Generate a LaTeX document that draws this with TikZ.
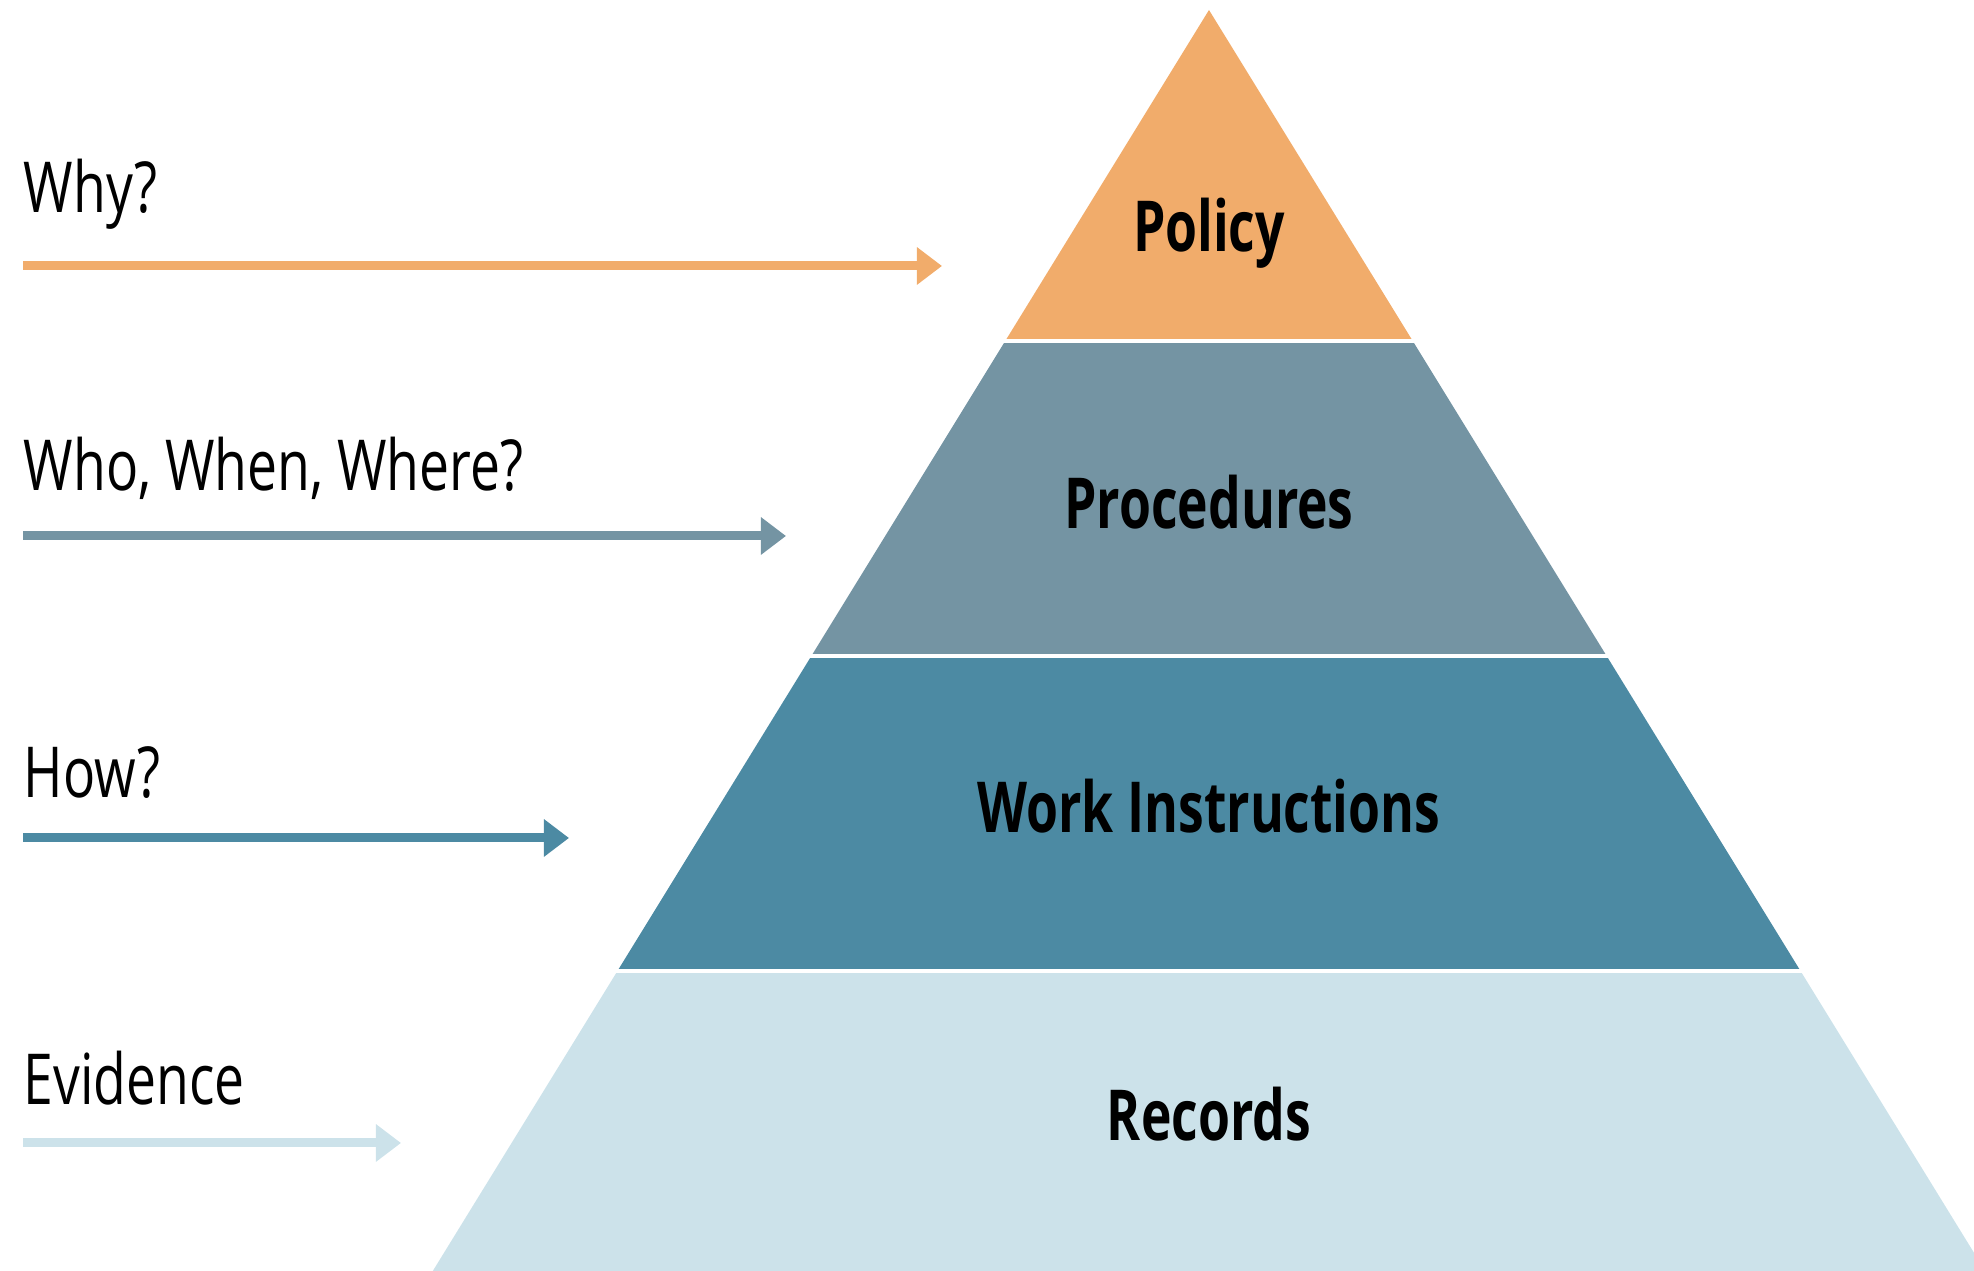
\documentclass[tikz,border=0pt]{standalone}
\usepackage{fontspec}
\setmainfont{Open Sans}[FakeStretch=0.76,BoldFeatures={FakeStretch=0.735}]
\usepackage{tikz}
\usetikzlibrary{arrows.meta}
\usetikzlibrary{positioning}
\definecolor{policyc}{HTML}{F1AC6B}
\definecolor{procc}{HTML}{7494A3}
\definecolor{workc}{HTML}{4C8AA3}
\definecolor{recc}{HTML}{CCE2EA}

\begin{document}
\begin{tikzpicture}[x=0.01cm,y=-0.01cm]
\tikzstyle{question}=[anchor=base west,inner sep=0pt,font=\fontsize{20}{24}\selectfont]
\tikzstyle{layer}=[anchor=base,inner sep=0pt,font=\fontsize{20}{24}\selectfont\bfseries]
\tikzstyle{pointer}=[line width=0.09cm,-{Triangle[width=0.36cm,length=0.25cm]}]
\useasboundingbox (0,0) rectangle (1974,1271);

% pyramid, cut into four bands
\coordinate (T) at (1209,10);
\coordinate (L) at (432.8,1271);
\coordinate (R) at (1985.2,1271);
\foreach \ytop/\ybot/\col in {10/339/policyc,344/654/procc,659/969/workc,974/1271/recc}{
  \begin{scope}
    \clip (0,\ytop) rectangle (1974,\ybot);
    \fill[\col] (T) -- (L) -- (R) -- cycle;
  \end{scope}
}
\node[layer] (policy) at (1209,252) {Policy};
\node[layer] (proc) at (1209,529) {Procedures};
\node[layer] (work) at (1209,833) {Work Instructions};
\node[layer] (rec) at (1209,1141) {Records};

% questions on the left
\node[question] (why) at (23,213) {Why?};
\node[question] (who) at (23,491) {Who, When, Where?};
\node[question] (how) at (23,798) {How?};
\node[question] (evid) at (23,1105) {Evidence};

\coordinate (why s) at (23,266);
\coordinate (why e) at (942,266);
\coordinate (who s) at (23,536);
\coordinate (who e) at (786,536);
\coordinate (how s) at (23,838);
\coordinate (how e) at (569,838);
\coordinate (evid s) at (23,1143);
\coordinate (evid e) at (401,1143);
\draw[pointer,policyc] (why s) -- (why e);
\draw[pointer,procc] (who s) -- (who e);
\draw[pointer,workc] (how s) -- (how e);
\draw[pointer,recc] (evid s) -- (evid e);
\end{tikzpicture}
\end{document}
